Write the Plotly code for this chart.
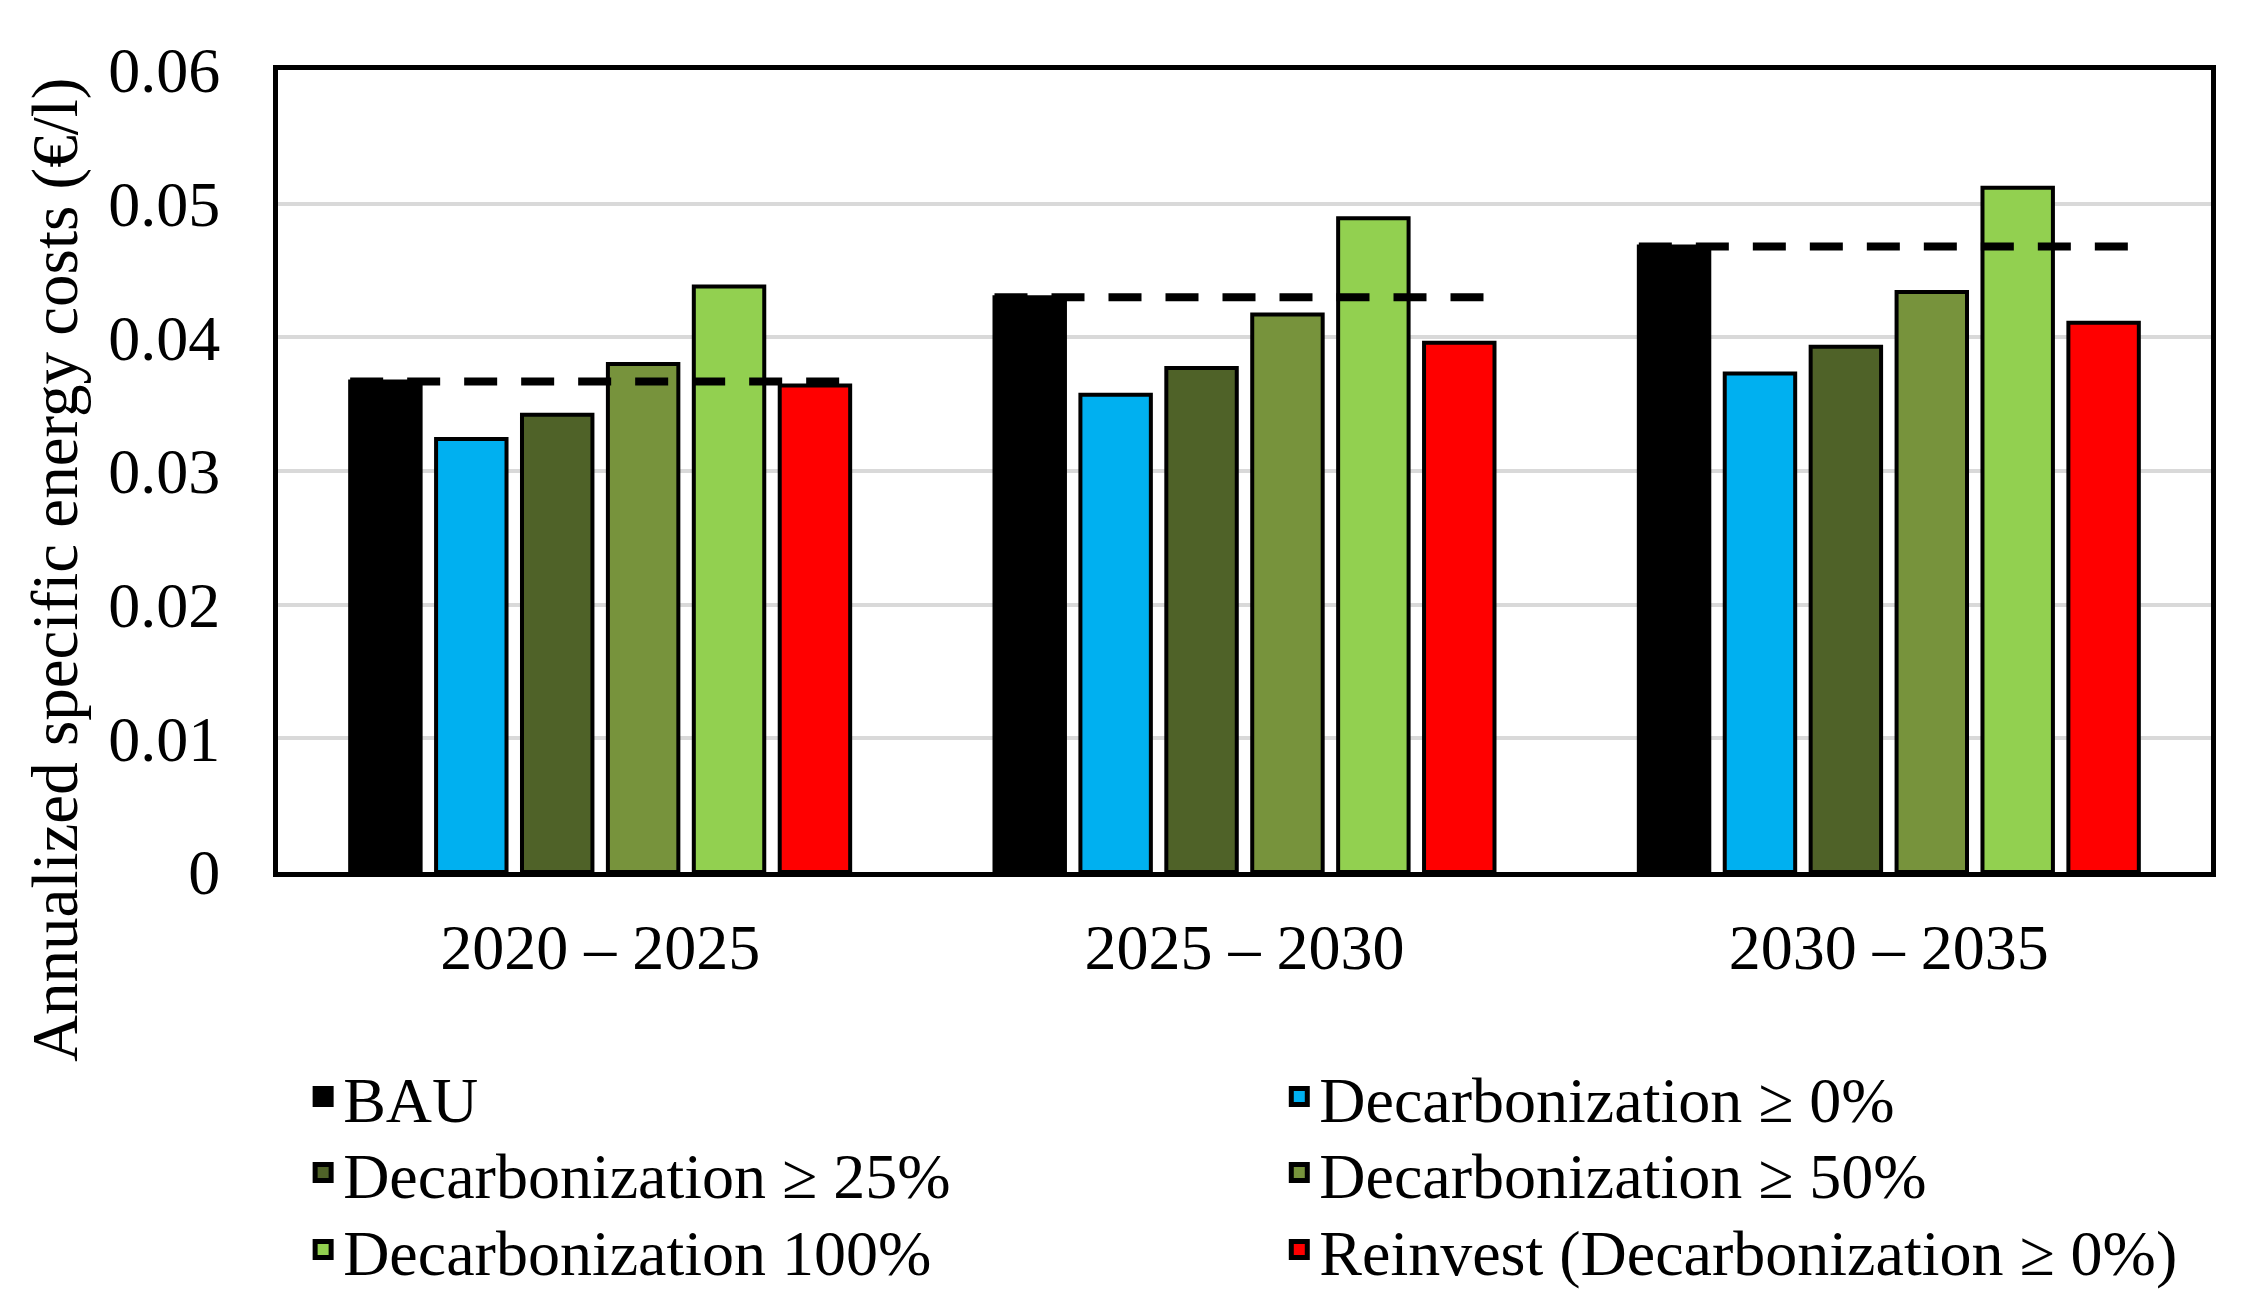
import plotly.graph_objects as go

periods = ["2020 – 2025", "2025 – 2030", "2030 – 2035"]
series_names = [
    "BAU",
    "Decarbonization ≥ 0%",
    "Decarbonization ≥ 25%",
    "Decarbonization ≥ 50%",
    "Decarbonization 100%",
    "Reinvest (Decarbonization ≥ 0%)",
]
bau = [0.0367, 0.0430, 0.0468]
decarb_0 = [0.0324, 0.0357, 0.0373]
decarb_25 = [0.0342, 0.0377, 0.0393]
decarb_50 = [0.0380, 0.0417, 0.0434]
decarb_100 = [0.0438, 0.0489, 0.0512]
reinvest = [0.0364, 0.0396, 0.0411]
series_values = [bau, decarb_0, decarb_25, decarb_50, decarb_100, reinvest]
colors = ["#000000", "#00B0F0", "#4F6228", "#77933C", "#92D050", "#FF0000"]
y_ticks = [0, 0.01, 0.02, 0.03, 0.04, 0.05, 0.06]
y_ticktext = ["0", "0.01", "0.02", "0.03", "0.04", "0.05", "0.06"]
y_title = "Annualized specific energy costs (€/l)"

FONT = "Liberation Serif, Times New Roman, serif"
FS = 64
BARGAP = 0.2
BARGROUPGAP = 0.18

# legend layout: two columns, three rows (paper coords)
legend_cols = [0.013, 0.518]
legend_rows = [-0.2805, -0.3753, -0.4713]

xs = list(range(len(periods)))
fig = go.Figure()
for name, vals, col in zip(series_names, series_values, colors):
    fig.add_trace(go.Bar(
        x=xs, y=vals, name=name, showlegend=False,
        marker=dict(color=col, line=dict(color="#000000", width=4)),
    ))

# dashed BAU reference line across each group
group_w = 1 - BARGAP
slot = group_w / len(series_names)
half = group_w / 2 - slot * BARGROUPGAP / 2
lx, ly = [], []
for i, v in zip(xs, bau):
    lx += [i - half, i + half, None]
    ly += [v, v, None]
fig.add_trace(go.Scatter(
    x=lx, y=ly, mode="lines", showlegend=False, hoverinfo="skip",
    line=dict(color="#000000", width=8, dash="33px,24px"),
))

# legend entries (square swatches), one legend per entry for exact placement
legend_layouts = {}
for k, (name, col) in enumerate(zip(series_names, colors)):
    lg = "legend" if k == 0 else f"legend{k + 1}"
    fig.add_trace(go.Scatter(
        x=[None], y=[None], mode="markers", name=name, legend=lg,
        marker=dict(symbol="square", size=16, color=col,
                    line=dict(color="#000000", width=5)),
    ))
    legend_layouts[lg] = dict(
        x=legend_cols[k % 2], xanchor="left",
        y=legend_rows[k // 2], yanchor="middle",
        itemsizing="trace", font=dict(family=FONT, size=FS),
        bgcolor="rgba(0,0,0,0)", borderwidth=0,
    )

fig.update_layout(
    width=2243, height=1307,
    margin=dict(l=270, r=40, t=62, b=443, autoexpand=False),
    paper_bgcolor="white", plot_bgcolor="white",
    barmode="group", bargap=BARGAP, bargroupgap=BARGROUPGAP,
    font=dict(family=FONT, size=FS, color="#000000"),
    showlegend=True,
    annotations=[dict(
        text=y_title, textangle=-90, showarrow=False,
        xref="paper", yref="paper", x=-0.1154, y=0.3766,
        xanchor="center", yanchor="middle",
        font=dict(family=FONT, size=FS + 1),
    )],
    **legend_layouts,
)
fig.update_xaxes(
    range=[-0.5, 2.5], tickvals=xs, ticktext=periods,
    showline=True, linecolor="#000000", linewidth=5, mirror=True,
    ticks="outside", ticklen=15, tickcolor="rgba(0,0,0,0)",
    showgrid=False, zeroline=False,
    tickfont=dict(family=FONT, size=FS),
)
fig.update_yaxes(
    range=[0, 0.06], tickvals=y_ticks, ticktext=y_ticktext,
    showline=True, linecolor="#000000", linewidth=5, mirror=True,
    ticks="outside", ticklen=40, tickcolor="rgba(0,0,0,0)",
    showgrid=True, gridcolor="#D9D9D9", gridwidth=3.5, zeroline=False,
    tickfont=dict(family=FONT, size=FS),
)

fig.write_html("out.html")
